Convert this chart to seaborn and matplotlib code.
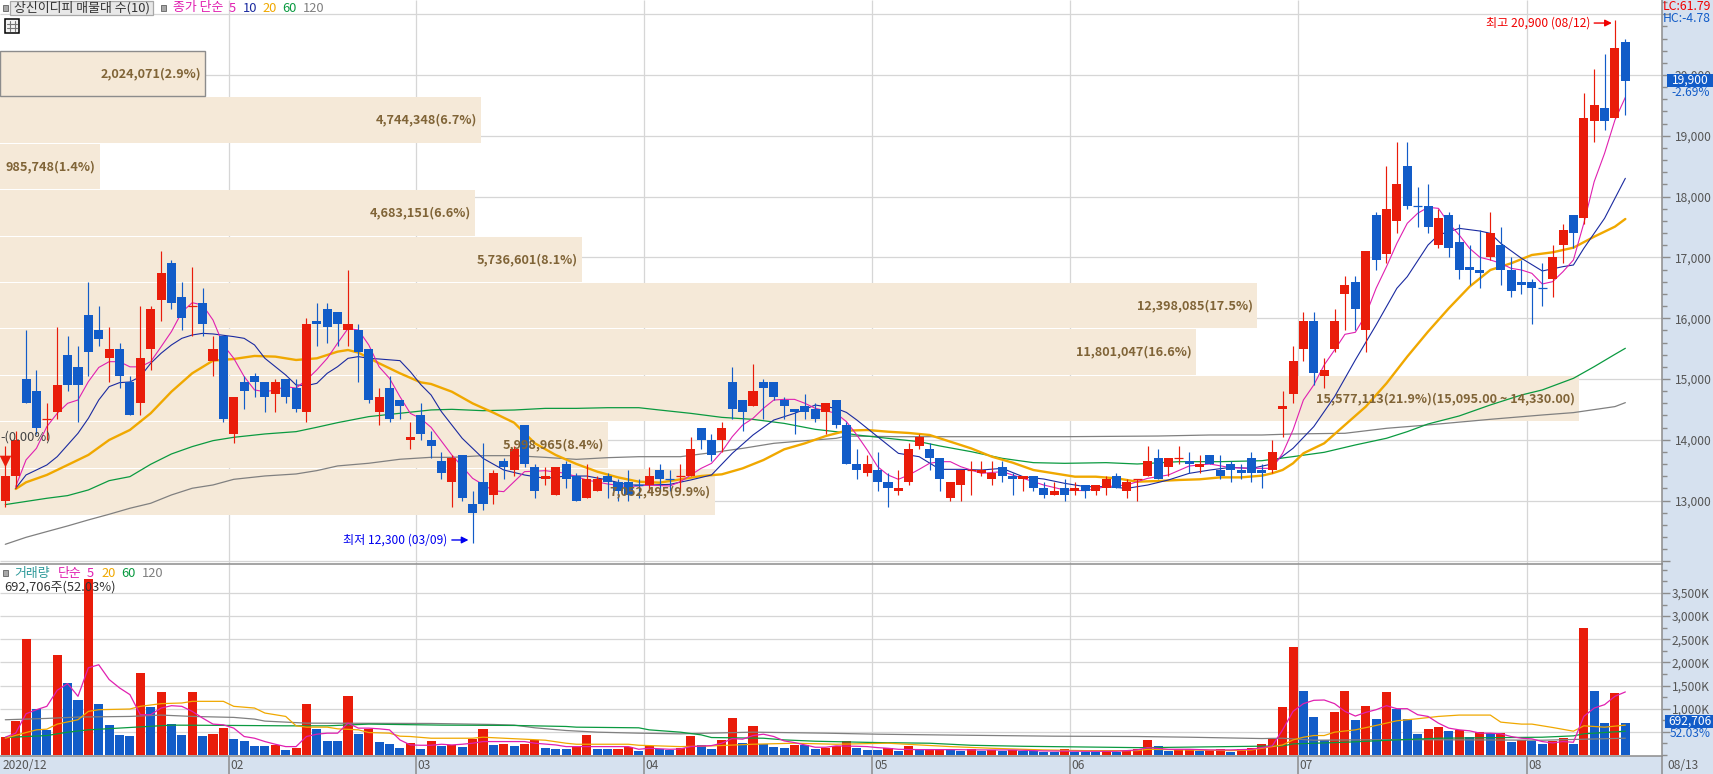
import numpy as np
import pandas as pd
import seaborn as sns
import matplotlib
matplotlib.use("Agg")
import matplotlib.pyplot as plt
from matplotlib.patches import Rectangle
from matplotlib.lines import Line2D
from matplotlib.ticker import MultipleLocator

opens = [13000,13400,15000,14800,14350,14450,15400,15200,16050,15800,15350,15500,14950,14600,15500,16300,16900,16350,16200,16250,
         15300,15700,14100,14950,15050,14950,14750,15000,14850,14450,15950,16150,16100,15800,15800,15500,14450,14850,14650,14000,
         14400,14000,13650,13300,13750,12950,13300,13100,13650,13500,14250,13550,13350,13100,13600,13400,13050,13150,13400,13300,
         13300,13250,13250,13500,13350,13400,13400,14200,14000,14000,14950,14650,14550,14950,14950,14650,14500,14550,14500,14450,
         14650,14250,13600,13450,13500,13300,13150,13300,13900,13850,13700,13050,13250,13500,13450,13350,13550,13400,13350,13400,
         13200,13100,13200,13150,13250,13150,13200,13400,13150,13350,13400,13700,13550,13700,13650,13550,13750,13500,13600,13500,
         13700,13500,13500,14500,14750,15500,15950,15050,15500,16400,16600,15800,17700,17050,17600,18500,17850,17850,17200,17700,
         17250,16850,16800,17000,17200,16800,16600,16600,16500,16650,17200,17700,17650,19250,19450,19300,20550]
highs = [13900,14150,15800,15150,14600,15850,15700,15550,16600,16200,15850,15600,15050,16200,16200,17100,16950,16600,16850,16500,
         15700,15700,14700,15050,15100,14950,15000,15000,15000,16000,16250,16250,16100,16800,15900,15500,14850,15050,14650,14300,
         14600,14150,13800,13750,13750,13150,13950,13500,13700,13900,14250,13600,13550,13550,13650,13450,13600,13400,13450,13350,
         13500,13350,13550,13600,13500,13600,14050,14200,14100,14300,15200,14650,15250,15000,14950,14700,14500,14750,14600,14600,
         14650,14300,13850,13750,13800,13450,13500,13950,14100,13950,13700,13300,13500,13650,13650,13650,13650,13450,13400,13400,
         13300,13300,13350,13300,13250,13250,13400,13450,13350,13350,13900,13850,13700,13900,13800,13750,13750,13750,13650,13600,
         13800,13600,14000,14800,15550,16100,16100,15350,16150,16700,16700,17100,17750,18500,18900,18900,18150,18200,17800,17750,
         17550,17200,17450,17750,17500,17000,16950,16650,16900,17200,17550,17700,19700,20100,20350,20900,20600]
lows = [12900,13200,14600,14100,14000,14350,14800,14300,15050,15550,14950,14850,14400,14400,15150,15950,16150,15800,15700,15700,
        15050,14300,13950,14500,14700,14450,14450,14600,14450,14300,15550,15600,15550,15550,14950,14600,14250,14300,14350,13850,
        14000,13700,13350,12900,13000,12300,12850,12950,13350,13400,13550,13050,13250,13100,13200,13000,13050,13150,13050,13000,
        13000,13050,13150,13150,13150,13150,13400,13850,13650,13800,14350,14150,14550,14350,14650,14350,14100,14350,14300,14100,
        14200,13600,13350,13400,13150,12900,13100,13250,13850,13500,13150,13000,13000,13100,13400,13250,13300,13100,13150,13150,
        13050,13100,13000,13100,13050,13100,13100,13200,13050,13000,13400,13350,13400,13600,13450,13450,13600,13350,13300,13350,
        13300,13200,13450,14050,14600,15300,14900,14850,15450,15800,15800,15450,16800,16900,17400,17800,17500,17400,17150,17000,
        16650,16550,16500,16950,16550,16350,16400,15900,16200,16350,16900,17150,17550,18900,19100,19300,19350]
closes = [13400,14000,14600,14200,14350,14900,14900,14900,15450,15650,15500,15050,14400,15350,16150,16750,16250,16000,16200,15900,
          15500,14350,14700,14800,14950,14700,14950,14700,14500,15900,15900,15850,15900,15900,15450,14650,14700,14350,14550,14050,
          14100,13900,13450,13700,13050,12800,12950,13450,13550,13850,13600,13150,13400,13550,13350,13000,13350,13350,13300,13150,
          13100,13250,13400,13350,13350,13400,13850,14000,13750,14200,14500,14450,14800,14850,14700,14550,14450,14450,14350,14600,
          14250,13600,13500,13600,13300,13200,13200,13850,14050,13700,13350,13300,13500,13500,13500,13450,13400,13350,13400,13200,
          13100,13150,13100,13200,13150,13250,13350,13200,13300,13350,13650,13350,13700,13700,13600,13600,13600,13400,13500,13450,
          13450,13450,13800,14550,15300,15950,15100,15150,15950,16550,16150,17100,16950,17800,18200,17850,17850,17500,17650,17150,
          16800,16800,16750,17400,16800,16450,16550,16500,16500,17000,17450,17400,19300,19500,19250,20450,19900]
doji_down = [61, 64, 136, 148]

volumes = [391,739,2500,1000,543,2152,1565,1196,3800,1109,652,435,413,1761,1043,1370,674,435,1370,413,
           457,587,348,304,196,194,217,109,152,1109,565,304,300,1283,457,565,283,239,152,261,
           130,304,196,217,174,348,565,217,239,196,239,326,152,130,128,167,435,130,128,130,
           181,87,196,130,116,145,413,217,130,326,804,261,630,246,174,152,225,217,130,159,
           188,304,152,109,105,145,87,196,116,123,130,116,87,123,94,100,94,100,94,90,
           72,70,123,72,70,68,94,72,94,130,326,196,87,130,135,87,109,130,65,130,
           159,239,348,1043,2326,1391,826,326,935,1391,761,1065,783,1370,1000,783,457,565,609,522,
           543,391,500,478,485,283,326,304,239,304,370,239,2739,1391,696,1348,693]

ma5 = [(1,13230),(2,13670),(3,13860),(4,14217),(5,14435),(6,14600),(7,14655),(8,14957),(9,15190),(10,15285),(11,15285),(12,15200),
       (13,15200),(14,15285),(15,15530),(16,15780),(17,16100),(18,16255),(19,16217),(20,15970),(21,15560),(22,15340),(23,15040),
       (24,14820),(25,14790),(26,14820),(27,14875),(28,14850),(29,14985),(30,15150),(31,15340),(32,15590),(33,15830),(34,15806),
       (35,15560),(36,15200),(37,15010),(38,14710),(39,14435),(40,14350),(41,14205),(43,13750),(45,13366),(47,13163),(48,13147),
       (50,13476),(52,13492),(54,13448),(56,13338),(58,13273),(60,13229),(62,13256),(64,13240),(65,13311),(66,13420),(67,13530),
       (68,13612),(69,13805),(70,14051),(71,14243),(72,14353),(73,14517),(74,14654),(75,14665),(76,14665),(77,14600),(78,14517),
       (79,14479),(80,14435),(81,14298),(82,14079),(83,13832),(84,13558),(85,13421),(86,13350),(87,13421),(88,13514),(89,13613),
       (90,13640),(91,13640),(92,13558),(94,13448),(96,13476),(98,13366),(100,13256),(102,13174),(104,13163),(106,13229),(108,13256),
       (110,13366),(112,13421),(114,13569),(116,13602),(118,13541),(120,13530),(122,13531),(123,13778),(124,14162),(125,14655),
       (126,14902),(127,15231),(128,15477),(129,15735),(130,15768),(131,16053),(132,16492),(133,16848),(134,17232),(135,17561),
       (136,17725),(137,17824),(138,17807),(139,17561),(140,17369),(141,17149),(142,17001),(143,16958),(144,16903),(145,16820),
       (146,16793),(147,16738),(148,16563),(149,16601),(150,16766),(151,16958),(152,17561),(153,18246),(154,18712),(155,19260),(156,19633)]
ma10 = [(1,13202),(2,13422),(4,13586),(5,13723),(6,13915),(7,14107),(8,14354),(9,14655),(10,14874),(11,14940),(12,14951),(13,15039),
        (14,15258),(15,15423),(16,15560),(17,15669),(18,15724),(19,15751),(20,15741),(22,15697),(23,15669),(24,15560),(25,15340),
        (26,15203),(27,15066),(28,14902),(29,14891),(30,14929),(31,15094),(32,15203),(33,15340),(34,15368),(35,15340),(36,15329),
        (38,15302),(39,15121),(40,14910),(41,14737),(42,14462),(44,14024),(46,13695),(48,13503),(50,13421),(52,13366),(54,13404),
        (56,13404),(58,13339),(60,13256),(62,13256),(64,13267),(66,13339),(68,13421),(70,13777),(72,14079),(74,14325),(76,14435),
        (78,14572),(80,14517),(81,14450),(82,14325),(84,14051),(86,13777),(88,13722),(90,13514),(92,13514),(94,13503),(96,13530),
        (98,13393),(100,13355),(102,13284),(104,13229),(106,13229),(108,13201),(110,13256),(112,13339),(114,13448),(116,13503),
        (118,13547),(120,13530),(122,13603),(124,13860),(126,14217),(128,14710),(130,15313),(132,15889),(134,16492),(135,16683),
        (137,17204),(138,17369),(140,17478),(142,17434),(143,17396),(144,17232),(146,16985),(148,16777),(150,16848),(151,16875),
        (152,17149),(154,17643),(155,17972),(156,18301)]
ma20 = [(1,13191),(2,13301),(4,13422),(6,13586),(8,13751),(10,13997),(12,14162),(14,14436),(16,14792),(18,15094),(20,15302),(22,15329),
        (24,15379),(26,15368),(28,15313),(30,15340),(32,15450),(33,15477),(34,15434),(36,15258),(38,15094),(40,14945),(41,14918),
        (43,14791),(45,14599),(47,14446),(49,14281),(51,13942),(53,13750),(55,13602),(57,13476),(59,13382),(61,13311),(63,13295),
        (65,13349),(67,13404),(69,13432),(71,13530),(73,13667),(75,13843),(77,13942),(79,14062),(81,14150),(83,14161),(85,14133),
        (87,14112),(89,14079),(91,13969),(93,13859),(95,13722),(97,13624),(99,13503),(101,13448),(103,13393),(105,13393),(107,13366),
        (109,13311),(111,13322),(113,13339),(115,13350),(117,13382),(119,13382),(121,13410),(122,13449),(123,13504),(124,13613),
        (125,13778),(127,13942),(129,14244),(131,14545),(133,14929),(135,15368),(137,15779),(139,16163),(141,16519),(143,16793),
        (145,16903),(147,17040),(149,17084),(151,17160),(153,17341),(155,17506),(156,17632)]
ma60 = [(0,12934),(4,13038),(6,13082),(8,13175),(10,13328),(12,13394),(14,13597),(16,13767),(18,13888),(20,13986),(22,14041),(25,14096),
        (28,14134),(30,14206),(32,14282),(35,14381),(38,14436),(41,14491),(43,14501),(46,14479),(49,14490),(52,14517),(55,14517),
        (58,14528),(61,14528),(63,14490),(66,14435),(69,14369),(72,14336),(75,14270),(78,14172),(80,14133),(82,14079),(85,14024),
        (88,13969),(90,13898),(93,13805),(96,13695),(99,13624),(102,13613),(106,13624),(109,13602),(113,13640),(117,13640),(121,13656),
        (124,13723),(127,13794),(130,13915),(133,14025),(135,14134),(137,14260),(140,14392),(143,14573),(146,14737),(148,14820),
        (151,15011),(153,15203),(155,15406),(156,15505)]
ma120 = [(0,12281),(2,12396),(4,12490),(6,12583),(8,12682),(10,12775),(12,12874),(14,12956),(16,13093),(18,13203),(20,13257),(22,13350),
         (25,13405),(28,13438),(30,13493),(32,13570),(35,13614),(38,13680),(41,13712),(43,13711),(46,13739),(49,13739),(52,13711),
         (55,13678),(58,13706),(61,13722),(65,13722),(68,13788),(71,13859),(74,13942),(77,13985),(80,14024),(81,14062),(86,14051),
         (94,14051),(102,14051),(111,14062),(116,14079),(121,14079),(124,14096),(129,14107),(133,14189),(137,14244),(143,14337),
         (148,14408),(151,14447),(155,14546),(156,14611)]

vol_ma5 = [(0,384),(1,471),(2,891),(3,978),(4,1051),(5,1398),(6,1543),(7,1268),(8,1884),(9,1949),(10,1630),(11,1449),(12,1304),(13,870),
           (14,870),(15,1014),(16,1065),(17,1051),(18,942),(19,797),(20,667),(21,652),(22,580),(23,399),(24,362),(25,290),(26,232),(27,181),
           (28,181),(29,399),(30,449),(31,471),(32,471),(33,688),(34,580),(35,580),(36,565),(37,543),(38,326),(39,217),(40,210),(41,210),
           (42,232),(43,217),(44,232),(45,254),(46,290),(48,290),(50,290),(51,254),(53,217),(54,181),(59,181),(60,181),(61,123),(62,145),
           (64,123),(65,130),(66,181),(68,203),(69,254),(70,355),(71,341),(72,420),(73,449),(74,399),(75,304),(76,268),(77,217),(78,167),
           (79,167),(80,196),(82,188),(83,181),(84,159),(85,145),(86,123),(88,116),(91,116),(94,109),(97,109),(100,87),(104,80),(107,80),
           (109,109),(110,159),(112,123),(114,123),(116,109),(118,109),(120,123),(122,196),(123,543),(124,942),(125,1109),(126,1181),
           (127,1188),(128,1109),(129,942),(130,841),(131,920),(132,978),(133,1065),(134,1000),(135,1000),(136,870),(137,833),(138,688),
           (139,580),(140,543),(141,522),(142,471),(143,471),(144,457),(145,399),(146,362),(147,348),(148,290),(149,261),(150,290),(151,275),
           (152,833),(153,1014),(154,1087),(155,1268),(156,1362)]
vol_ma20 = [(0,362),(2,485),(3,543),(4,558),(5,667),(7,761),(8,942),(9,978),(12,993),(13,1051),(15,1109),(17,1123),(18,1159),(21,1159),
            (22,1051),(24,1014),(25,906),(27,833),(28,630),(29,601),(31,601),(32,565),(34,543),(35,485),(37,471),(38,406),(39,399),(41,362),
            (45,362),(46,384),(48,362),(50,341),(52,319),(54,254),(55,232),(60,232),(61,210),(65,181),(68,196),(72,232),(76,254),(80,232),
            (85,254),(88,217),(91,181),(95,145),(100,109),(104,94),(109,94),(110,123),(114,109),(118,94),(120,109),(122,181),(123,217),
            (124,326),(125,384),(126,420),(127,420),(128,493),(130,543),(132,638),(134,739),(136,783),(138,833),(140,862),(143,862),(144,710),
            (145,688),(146,667),(147,667),(149,594),(151,514),(152,630),(154,601),(156,645)]
vol_ma60 = [(0,377),(4,420),(6,493),(8,543),(12,594),(16,645),(22,638),(27,630),(31,630),(35,667),(42,645),(49,638),(54,616),(55,601),
            (61,587),(62,543),(65,493),(67,435),(68,377),(73,362),(75,326),(78,297),(84,268),(89,254),(93,210),(98,188),(106,167),(109,159),
            (110,159),(123,196),(124,239),(129,275),(134,326),(138,362),(148,384),(151,413),(152,457),(156,514)]
vol_ma120 = [(0,761),(4,790),(7,819),(12,833),(15,862),(18,833),(22,812),(24,775),(25,732),(27,710),(29,688),(41,681),(47,659),(49,645),
             (51,587),(54,529),(57,493),(61,471),(65,457),(72,493),(79,471),(84,449),(92,428),(101,406),(109,399),(114,384),(121,355),(123,362),
             (126,319),(134,333),(148,319),(156,362)]

# volume profile, top band first
band_volume = [2024071,4744348,985748,4683151,5736601,12398085,11801047,15577113,5998965,7052495]
band_label = ["2,024,071(2.9%)","4,744,348(6.7%)","985,748(1.4%)","4,683,151(6.6%)","5,736,601(8.1%)","12,398,085(17.5%)",
              "11,801,047(16.6%)","15,577,113(21.9%)(15,095.00 ~ 14,330.00)","5,998,965(8.4%)","7,052,495(9.9%)"]
band_high = [20395,19638,18865,18109,17336,16579,15822,15049,14293,13520]
band_low = [19655,18882,18125,17352,16595,15839,15066,14309,13536,12763]

month_pos = [21.5,39.5,61.5,83.5,102.5,124.5,146.5]
month_label = ["02","03","04","05","06","07","08"]

RED = "#E91C0A"
BLUE = "#125CC8"
PINK = "#E020B0"
NAVY = "#1A2AA0"
ORANGE = "#F0A800"
GREEN = "#0A9A40"
GRAY = "#808080"
GRID = "#D6D6D6"
AXIS = "#8C8C8C"
PANEL = "#D6E1EF"
LABEL = "#555555"

W, H = 1713, 774
sns.set_theme(style="white")
plt.rcParams["font.family"] = ["Noto Sans CJK KR", "DejaVu Sans"]

fig = plt.figure(figsize=(W / 100, H / 100), dpi=100, facecolor=PANEL)

def box(left, top, right, bottom):
    return [left / W, 1 - bottom / H, (right - left) / W, (bottom - top) / H]

def label(x, y, s, color=LABEL, size=9.3, ha="left", **kw):
    return fig.text(x / W, 1 - y / H, s, color=color, fontsize=size, ha=ha, va="center", zorder=11, **kw)

xlim = (-0.51, 159.53)
price_lim = (11957, 21234)
vol_lim = (-22, 4126)

ax_grid = fig.add_axes(box(0, 0, 1662, 564), zorder=0)
ax_band = fig.add_axes(box(0, 0, 1662, 564), zorder=1)
ax = fig.add_axes(box(0, 0, 1662, 564), zorder=2)
ax_vol = fig.add_axes(box(0, 564, 1662, 756), zorder=2)
ax_strip = fig.add_axes(box(0, 756, 1713, 774), zorder=1)

# grid under the profile bands
ax_grid.set_xlim(xlim)
ax_grid.set_ylim(price_lim)
ax_grid.set_facecolor("white")
ax_grid.hlines(np.arange(12000, 21001, 1000), *xlim, color=GRID, lw=0.9)
ax_grid.vlines(month_pos, *price_lim, color=GRID, lw=0.9)
ax_grid.set_xticks([])
ax_grid.set_yticks([])
sns.despine(ax=ax_grid, left=True, bottom=True)

# profile bands, the width comes from the traded volume
heights = np.array(band_high) - np.array(band_low)
ax_band.barh(band_low, band_volume, height=heights, align="edge", color="#F5E9D8", lw=0)
ax_band.barh(band_low[0], band_volume[0], height=heights[0], align="edge", color="#F5E9D8", edgecolor=AXIS, lw=1.0)
ax_band.set_xlim(0, 16395000)
ax_band.set_ylim(price_lim)
ax_band.patch.set_visible(False)
ax_band.set_xticks([])
ax_band.set_yticks([])
sns.despine(ax=ax_band, left=True, bottom=True)

# moving averages
for pts, color, lw in [(ma120, GRAY, 0.9), (ma60, GREEN, 0.9), (ma20, ORANGE, 1.7), (ma10, NAVY, 0.8), (ma5, PINK, 0.8)]:
    p = np.array(pts)
    sns.lineplot(x=p[:, 0], y=p[:, 1], color=color, lw=lw, ax=ax, errorbar=None, estimator=None, zorder=3)

# candles
idx = np.arange(len(closes))
o = np.array(opens)
c = np.array(closes)
is_up = (c >= o) & ~np.isin(idx, doji_down)
colors = np.where(is_up, RED, BLUE)
ax.vlines(idx, lows, highs, colors=colors, lw=0.85, zorder=4)
ax.bar(idx, np.abs(c - o), bottom=np.minimum(o, c), width=0.87, color=colors, lw=0, zorder=4)
flat = o == c
ax.hlines(c[flat], idx[flat] - 0.43, idx[flat] + 0.43, colors=colors[flat], lw=0.9, zorder=4)

# band labels sit on top of the candles
for v, hi, lo, s in zip(band_volume, band_high, band_low, band_label):
    ax.annotate(s, (v, (hi + lo) / 2), xycoords=ax_band.transData, xytext=(-3, 0), textcoords="offset points",
                ha="right", va="center", fontsize=9.1, fontweight="bold", color="#806437", zorder=5)

ax.set_xlim(xlim)
ax.set_ylim(price_lim)
ax.patch.set_visible(False)
ax.set_xticks([])
ax.set_xlabel("")
ax.set_ylabel("")
ax.yaxis.tick_right()
ax.set_yticks(np.arange(12000, 21001, 1000))
ax.set_yticklabels([""] + [f"{v:,}" for v in range(13000, 21000, 1000)] + [""])
ax.yaxis.set_minor_locator(MultipleLocator(200))
ax.tick_params(axis="y", which="major", right=True, length=6, width=1, color=AXIS, labelsize=8.6, labelcolor=LABEL, pad=3)
ax.tick_params(axis="y", which="minor", right=True, length=3.5, width=1, color=AXIS)
for side in ["top", "left", "bottom"]:
    ax.spines[side].set_visible(False)
ax.spines["right"].set_color(AXIS)
ax.spines["right"].set_linewidth(1.1)

sns.scatterplot(x=[0], y=[13650], marker="v", s=70, color=RED, lw=0, ax=ax, zorder=6, clip_on=True)
ax.text(-0.5, 14050, "-(0.00%)", fontsize=9.3, color="#444444", va="center", ha="left", zorder=6)

ax.annotate("최고 20,900 (08/12)", (152.6, 20855), ha="right", va="center", fontsize=8.7, color="#F00000", zorder=6)
ax.annotate("", xy=(154.7, 20855), xytext=(153.0, 20855), zorder=6,
            arrowprops=dict(arrowstyle="-|>", color="#F00000", lw=1, mutation_scale=10, shrinkA=0, shrinkB=0))
ax.annotate("최저 12,300 (03/09)", (42.6, 12352), ha="right", va="center", fontsize=8.7, color="#0000F0", zorder=6)
ax.annotate("", xy=(44.6, 12352), xytext=(43.0, 12352), zorder=6,
            arrowprops=dict(arrowstyle="-|>", color="#0000F0", lw=1, mutation_scale=10, shrinkA=0, shrinkB=0))

# volume panel
vols = pd.DataFrame({"i": idx, "v": volumes})
vols["dir"] = np.where(vols["v"].diff().fillna(1) > 0, "up", "down")
ax_vol.set_facecolor("white")
ax_vol.hlines(np.arange(500, 3501, 500), *xlim, color=GRID, lw=0.9, zorder=0)
ax_vol.vlines(month_pos, *vol_lim, color=GRID, lw=0.9, zorder=0)
sns.barplot(data=vols, x="i", y="v", hue="dir", palette={"up": RED, "down": BLUE}, native_scale=True, dodge=False,
            width=0.87, saturation=1, linewidth=0, legend=False, errorbar=None, ax=ax_vol, zorder=2)
for pts, color in [(vol_ma120, GRAY), (vol_ma60, GREEN), (vol_ma20, ORANGE), (vol_ma5, PINK)]:
    p = np.array(pts)
    sns.lineplot(x=p[:, 0], y=p[:, 1], color=color, lw=0.9, ax=ax_vol, errorbar=None, estimator=None, zorder=3)
ax_vol.set_xlim(xlim)
ax_vol.set_ylim(vol_lim)
ax_vol.set_xticks([])
ax_vol.set_xlabel("")
ax_vol.set_ylabel("")
ax_vol.yaxis.tick_right()
ax_vol.set_yticks(np.arange(500, 3501, 500))
ax_vol.set_yticklabels(["", "1,000K", "1,500K", "2,000K", "2,500K", "3,000K", "3,500K"])
ax_vol.yaxis.set_minor_locator(MultipleLocator(250))
ax_vol.tick_params(axis="y", which="major", right=True, length=6, width=1, color=AXIS, labelsize=8.6, labelcolor=LABEL, pad=1)
ax_vol.tick_params(axis="y", which="minor", right=True, length=3.5, width=1, color=AXIS)
ax_vol.spines["left"].set_visible(False)
for side in ["top", "right", "bottom"]:
    ax_vol.spines[side].set_color(AXIS)
    ax_vol.spines[side].set_linewidth(1.1)

# date strip
ax_strip.set_xlim(-0.51, 164.44)
ax_strip.set_ylim(0, 1)
ax_strip.patch.set_visible(False)
ax_strip.vlines(month_pos + [159.53], 0, 1, color=AXIS, lw=1.1)
ax_strip.set_xticks([])
ax_strip.set_yticks([])
sns.despine(ax=ax_strip, left=True, bottom=True)
ax_strip.text(-0.3, 0.45, "2020/12", color=LABEL, fontsize=8.6, va="center")
for pos, s in zip(month_pos, month_label):
    ax_strip.text(pos + 0.15, 0.45, s, color=LABEL, fontsize=8.6, va="center")
ax_strip.text(160.0, 0.45, "08/13", color=LABEL, fontsize=8.6, va="center")

# header rows
def bullet(x0, y0):
    fig.add_artist(Rectangle((x0 / W, 1 - (y0 + 6) / H), 5 / W, 6 / H, transform=fig.transFigure,
                             facecolor="#A8A8A8", edgecolor="#707070", lw=0.7, zorder=10))

bullet(3, 5)
fig.add_artist(Rectangle((10 / W, 1 - 15 / H), 143 / W, 14 / H, transform=fig.transFigure,
                         facecolor="#E8E8E8", edgecolor="#A8A8A8", lw=0.9, zorder=10))
label(14, 8, "상신이디피 매물대 수(10)", color="#333333")
bullet(161, 5)
label(173, 8, "종가 단순", color=PINK)
label(228.5, 8, "5", color=PINK)
label(243, 8, "10", color=NAVY)
label(262.5, 8, "20", color=ORANGE)
label(282.5, 8, "60", color=GREEN)
label(303, 8, "120", color=GRAY)

# table icon
fig.add_artist(Rectangle((5 / W, 1 - 33 / H), 14 / W, 14 / H, transform=fig.transFigure,
                         facecolor="#F4F4F4", edgecolor="black", lw=1.1, zorder=10))
for gx in [9.5, 14.5]:
    fig.add_artist(Line2D([gx / W, gx / W], [1 - 31 / H, 1 - 21 / H], color="#777777", lw=0.8, zorder=11))
for gy in [23.5, 28]:
    fig.add_artist(Line2D([7 / W, 17 / W], [1 - gy / H, 1 - gy / H], color="#777777", lw=0.8, zorder=11))

bullet(3, 570)
label(14, 573.5, "거래량", color="#2E9A9A")
label(58, 573.5, "단순", color=PINK)
label(87, 573.5, "5", color=PINK)
label(101, 573.5, "20", color=ORANGE)
label(121, 573.5, "60", color=GREEN)
label(142, 573.5, "120", color=GRAY)
label(4, 587, "692,706주(52.03%)", color="#333333")

# right side readouts
label(1663, 6, "LC:61.79", color="#F00000", size=8.8)
label(1663, 18, "HC:-4.78", color=BLUE, size=8.8)
fig.add_artist(Rectangle((1667 / W, 1 - 87 / H), 46 / W, 13 / H, transform=fig.transFigure, facecolor=BLUE, lw=0, zorder=10))
label(1672, 80.5, "19,900", color="white", size=8.6)
label(1671, 93, "-2.69%", color=BLUE, size=8.6)
fig.add_artist(Rectangle((1665 / W, 1 - 728 / H), 48 / W, 13 / H, transform=fig.transFigure, facecolor=BLUE, lw=0, zorder=10))
label(1668, 721.5, "692,706", color="white", size=8.6)
label(1670, 733.5, "52.03%", color=BLUE, size=8.6)

fig.savefig("out.png", dpi=100, facecolor=fig.get_facecolor())
